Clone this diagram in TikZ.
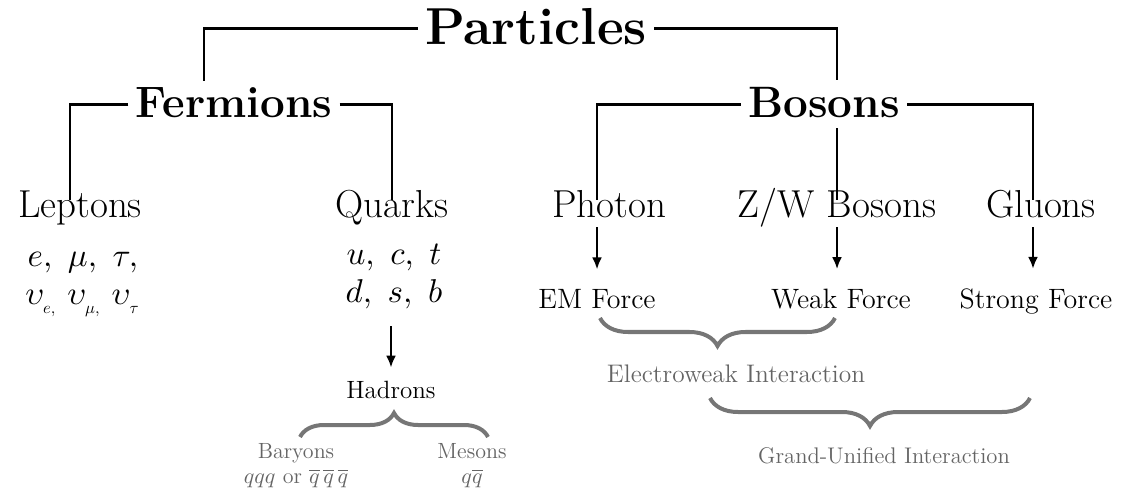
\documentclass[tikz,border=0pt]{standalone}
\usepackage{amsmath}
\usetikzlibrary{positioning,arrows.meta,decorations.pathreplacing}
% 10pt designs at every size
\DeclareFontShape{OT1}{cmr}{m}{n}{<->cmr10}{}
\DeclareFontShape{OT1}{cmr}{bx}{n}{<->cmbx10}{}
\DeclareFontShape{OML}{cmm}{m}{it}{<->cmmi10}{}
\definecolor{bracegray}{RGB}{118,118,118}
\definecolor{notegray}{RGB}{100,100,100}

\begin{document}
\begin{tikzpicture}[x=0.5pt, y=-0.5pt,
  root/.style={font=\fontsize{26}{30}\selectfont\bfseries, inner sep=3.5pt, text depth=0.15em},
  family/.style={font=\fontsize{22}{26}\selectfont\bfseries, inner sep=3.5pt, text depth=0.15em},
  leaf/.style={font=\fontsize{19.5}{23}\selectfont, inner sep=2pt,
    text height=0.7em, text depth=0.25em},
  members/.style={font=\fontsize{16.5}{19}\selectfont, align=center, inner sep=2pt},
  force/.style={font=\fontsize{14}{17}\selectfont, inner sep=2pt},
  note/.style={font=\fontsize{11}{12.5}\selectfont, text=notegray, align=center, inner sep=1pt},
  link/.style={line width=1.3pt},
  arr/.style={line width=1.3pt, -{Latex[length=6pt,width=5pt]}},
  brc/.style={decorate, decoration={brace, amplitude=#1}, draw=bracegray, line width=2pt},
  brc/.default=14pt,
]
  \useasboundingbox (0,0) rectangle (1128,491);

  % Top of the tree
  \node[root, anchor=base]   (particles) at (536,45)  {Particles};
  \node[family, anchor=base] (fermions)  at (234,118) {Fermions};
  \node[family, anchor=base] (bosons)    at (824,118) {Bosons};

  % Second row
  \node[leaf, anchor=base] (leptons) at (80,218)   {Leptons};
  \node[leaf, anchor=base] (quarks)  at (392,218)  {Quarks};
  \node[leaf, anchor=base] (photon)  at (609,218)  {Photon};
  \node[leaf, anchor=base] (zw)      at (837,218)  {Z/W Bosons};
  \node[leaf, anchor=base] (gluons)  at (1041,218) {Gluons};

  % Tree links
  \draw[link] (particles.west) -| ([xshift=-15pt]fermions.north);
  \draw[link] (particles.east) -| (bosons.north -| zw.north);
  \draw[link] (fermions.west) -| ([xshift=-5pt]leptons.north);
  \draw[link] (fermions.east) -| (quarks.north);
  \draw[link] (bosons.west) -| ([xshift=-6pt]photon.north);
  \draw[link] (bosons.east) -| ([xshift=-4pt]gluons.north);
  \draw[link] (bosons.south -| zw.north) -- (zw.north);

  % Members
  \node[members, anchor=base] (leptonset) at (83,305)
    {$e,\ \mu,\ \tau,$\\$\upsilon_{_{e,}}\ \upsilon_{_{\mu,}}\ \upsilon_{_\tau}$};
  \node[members, anchor=base] (quarkset) at (394,303)
    {$u,\ c,\ t$\\$d,\ s,\ b$};

  % Forces
  \node[force, anchor=base] (em)     at (597,308)  {EM Force};
  \node[force, anchor=base] (weak)   at (841,308)  {Weak Force};
  \node[force, anchor=base] (strong) at (1036,308) {Strong Force};

  \draw[arr, shorten >=7.5pt] (em |- photon.south) -- (em.north);
  \draw[arr, shorten >=7.5pt] (zw.south) -- (zw.south |- weak.north);
  \draw[arr, shorten >=7.5pt] ([xshift=-4pt]gluons.south) -- ([xshift=-4pt]gluons.south |- strong.north);

  % Hadrons
  \node[font=\fontsize{12.5}{15}\selectfont, inner sep=2pt, anchor=base] (hadrons) at (391,398) {Hadrons};
  \draw[arr, shorten <=6.3pt, shorten >=4.3pt] (quarkset.south -| hadrons.north) -- (hadrons.north);

  \coordinate (had-l) at (300,437);
  \coordinate (had-r) at (488,437);
  \draw[brc=12pt] (had-l) -- (had-r);
  \node[note, anchor=base] (baryons) at (296,483) {Baryons\\$qqq$ or $\overline{q}\,\overline{q}\,\overline{q}$};
  \node[note, anchor=base] (mesons)  at (472,483) {Mesons\\$q\overline{q}$};

  % Unification braces
  \coordinate (ew-l) at (600,318);
  \coordinate (ew-r) at (835,318);
  \draw[brc] (ew-r) -- (ew-l);
  \node[note, font=\fontsize{12.7}{15}\selectfont, anchor=base] (ew) at (736,382) {Electroweak Interaction};

  \coordinate (gut-l) at (710,398);
  \coordinate (gut-r) at (1030,398);
  \draw[brc] (gut-r) -- (gut-l);
  \node[note, font=\fontsize{11.3}{14}\selectfont, anchor=base] (gut) at (884,463) {Grand-Unified Interaction};
\end{tikzpicture}
\end{document}
